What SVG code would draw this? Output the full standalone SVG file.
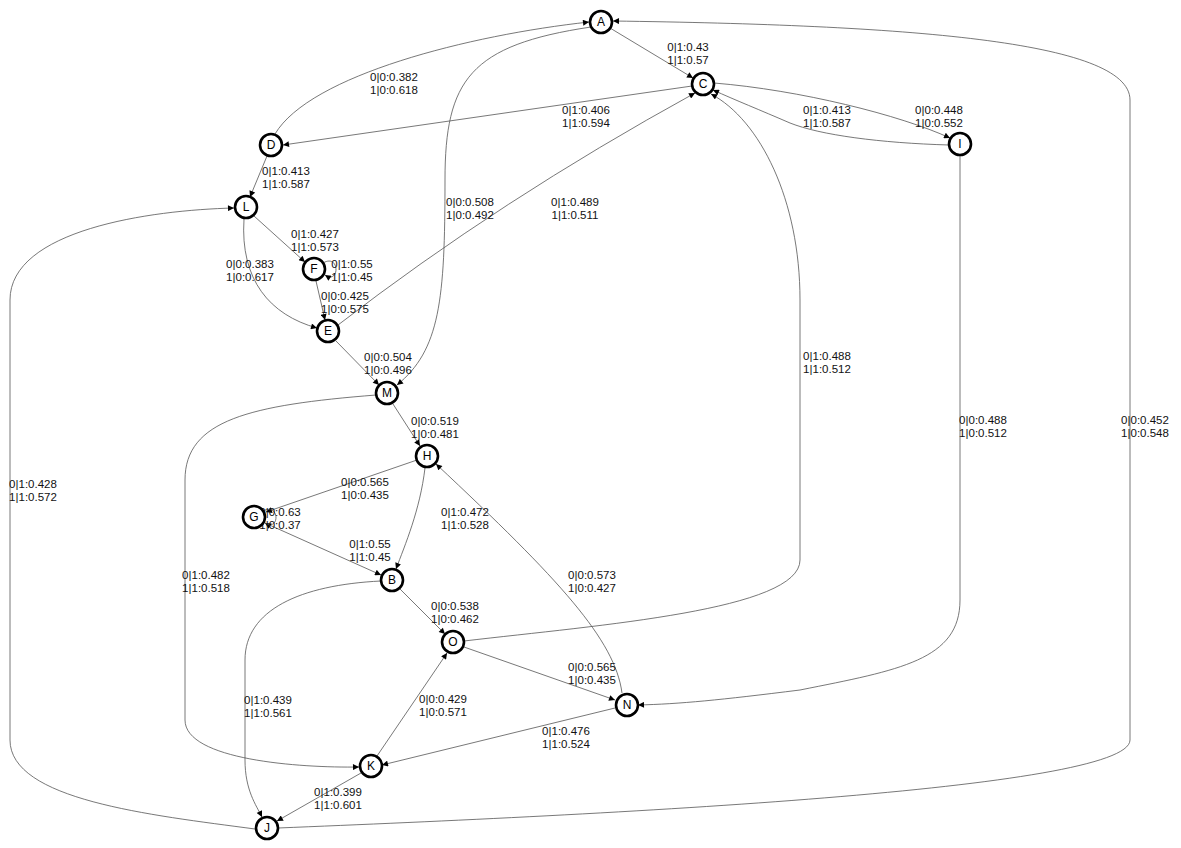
<svg xmlns="http://www.w3.org/2000/svg" width="1181" height="848" viewBox="0 0 1181 848">
<defs>
<marker id="ah" viewBox="0 0 10 10" refX="10" refY="5" markerWidth="7" markerHeight="6" markerUnits="userSpaceOnUse" orient="auto">
<path d="M0,0 L10,5 L0,10 z" fill="#000"/>
</marker>
<style>
.e{fill:none;stroke:#555;stroke-width:0.8;marker-end:url(#ah)}
.n circle{fill:#fff;stroke:#000;stroke-width:2.6}
.n text{font-family:"Liberation Sans",Arial,sans-serif;font-size:12px;text-anchor:middle;fill:#000}
.l{font-family:"Liberation Sans",Arial,sans-serif;font-size:11.5px;text-anchor:middle;fill:#111}
</style>
</defs>
<rect width="1181" height="848" fill="#fff"/>
<g id="edges">
<path class="e" d="M610,28 L693,78"/>
<path class="e" d="M275,134 C310,75 470,35 589,22"/>
<path class="e" d="M591,27 C470,45 445,80 445,180 C445,300 440,350 397,385"/>
<path class="e" d="M692,86 L283,145"/>
<path class="e" d="M949,145 C880,143 820,135 790,123 C760,110 735,100 713,90"/>
<path class="e" d="M714,83 C800,90 900,115 950,138"/>
<path class="e" d="M267,156 L250,197"/>
<path class="e" d="M254,216 L305,262"/>
<path class="e" d="M244,219 C240,280 270,315 317,328"/>
<path class="e" d="M323,263 C340,253 340,285 325,275"/>
<path class="e" d="M316,281 L325,320"/>
<path class="e" d="M338,325 Q500,200 695,93"/>
<path class="e" d="M336,341 L379,385"/>
<path class="e" d="M393,404 L420,446"/>
<path class="e" d="M376,395 C250,405 185,420 185,480 L185,720 C185,760 300,768 359,767"/>
<path class="e" d="M417,460 L266,512"/>
<path class="e" d="M263,511 C280,502 280,532 265,523"/>
<path class="e" d="M265,523 L381,575"/>
<path class="e" d="M425,468 C420,510 405,545 396,569"/>
<path class="e" d="M400,589 L445,634"/>
<path class="e" d="M381,581 C300,585 245,610 245,660 L245,760 C245,790 256,805 262,817"/>
<path class="e" d="M464,641 C600,625 800,610 800,560 L800,300 C800,200 760,120 711,94"/>
<path class="e" d="M464,647 L615,700"/>
<path class="e" d="M622,693 C615,640 560,580 436,464"/>
<path class="e" d="M960,156 L960,600 C960,660 900,670 800,690 C720,700 680,704 638,705"/>
<path class="e" d="M615,708 L382,765"/>
<path class="e" d="M377,756 L447,653"/>
<path class="e" d="M361,773 L277,821"/>
<path class="e" d="M255,829 C150,815 10,800 10,740 L10,300 C10,230 150,210 234,208"/>
<path class="e" d="M278,828 C600,815 1130,790 1130,740 L1130,100 C1130,40 900,25 613,21"/>
</g>
<g id="labels">
<text class="l" x="688" y="51">0|1:0.43<tspan x="688" dy="12.5">1|1:0.57</tspan></text>
<text class="l" x="394" y="81">0|0:0.382<tspan x="394" dy="12.5">1|0:0.618</tspan></text>
<text class="l" x="470" y="206">0|0:0.508<tspan x="470" dy="12.5">1|0:0.492</tspan></text>
<text class="l" x="586" y="114">0|1:0.406<tspan x="586" dy="12.5">1|1:0.594</tspan></text>
<text class="l" x="827" y="114">0|1:0.413<tspan x="827" dy="12.5">1|1:0.587</tspan></text>
<text class="l" x="939" y="114">0|0:0.448<tspan x="939" dy="12.5">1|0:0.552</tspan></text>
<text class="l" x="286" y="175">0|1:0.413<tspan x="286" dy="12.5">1|1:0.587</tspan></text>
<text class="l" x="315" y="238">0|1:0.427<tspan x="315" dy="12.5">1|1:0.573</tspan></text>
<text class="l" x="250" y="268">0|0:0.383<tspan x="250" dy="12.5">1|0:0.617</tspan></text>
<text class="l" x="352" y="268">0|1:0.55<tspan x="352" dy="12.5">1|1:0.45</tspan></text>
<text class="l" x="345" y="300">0|0:0.425<tspan x="345" dy="12.5">1|0:0.575</tspan></text>
<text class="l" x="575" y="206">0|1:0.489<tspan x="575" dy="12.5">1|1:0.511</tspan></text>
<text class="l" x="388" y="361">0|0:0.504<tspan x="388" dy="12.5">1|0:0.496</tspan></text>
<text class="l" x="435" y="425">0|0:0.519<tspan x="435" dy="12.5">1|0:0.481</tspan></text>
<text class="l" x="206" y="579">0|1:0.482<tspan x="206" dy="12.5">1|1:0.518</tspan></text>
<text class="l" x="365" y="486">0|0:0.565<tspan x="365" dy="12.5">1|0:0.435</tspan></text>
<text class="l" x="280" y="516">0|0:0.63<tspan x="280" dy="12.5">1|0:0.37</tspan></text>
<text class="l" x="370" y="548">0|1:0.55<tspan x="370" dy="12.5">1|1:0.45</tspan></text>
<text class="l" x="465" y="516">0|1:0.472<tspan x="465" dy="12.5">1|1:0.528</tspan></text>
<text class="l" x="455" y="610">0|0:0.538<tspan x="455" dy="12.5">1|0:0.462</tspan></text>
<text class="l" x="268" y="704">0|1:0.439<tspan x="268" dy="12.5">1|1:0.561</tspan></text>
<text class="l" x="827" y="360">0|1:0.488<tspan x="827" dy="12.5">1|1:0.512</tspan></text>
<text class="l" x="592" y="671">0|0:0.565<tspan x="592" dy="12.5">1|0:0.435</tspan></text>
<text class="l" x="592" y="579">0|0:0.573<tspan x="592" dy="12.5">1|0:0.427</tspan></text>
<text class="l" x="983" y="424">0|0:0.488<tspan x="983" dy="12.5">1|0:0.512</tspan></text>
<text class="l" x="566" y="735">0|1:0.476<tspan x="566" dy="12.5">1|1:0.524</tspan></text>
<text class="l" x="443" y="703">0|0:0.429<tspan x="443" dy="12.5">1|0:0.571</tspan></text>
<text class="l" x="338" y="796">0|1:0.399<tspan x="338" dy="12.5">1|1:0.601</tspan></text>
<text class="l" x="33" y="488">0|1:0.428<tspan x="33" dy="12.5">1|1:0.572</tspan></text>
<text class="l" x="1145" y="424">0|0:0.452<tspan x="1145" dy="12.5">1|0:0.548</tspan></text>
</g>
<g id="A" class="n"><circle cx="601" cy="22" r="11"/><text x="601" y="26">A</text></g>
<g id="C" class="n"><circle cx="703" cy="84" r="11"/><text x="703" y="88">C</text></g>
<g id="D" class="n"><circle cx="271" cy="145" r="11"/><text x="271" y="149">D</text></g>
<g id="I" class="n"><circle cx="960" cy="144" r="11"/><text x="960" y="148">I</text></g>
<g id="L" class="n"><circle cx="246" cy="207" r="11"/><text x="246" y="211">L</text></g>
<g id="F" class="n"><circle cx="314" cy="269" r="11"/><text x="314" y="273">F</text></g>
<g id="E" class="n"><circle cx="328" cy="331" r="11"/><text x="328" y="335">E</text></g>
<g id="M" class="n"><circle cx="387" cy="393" r="11"/><text x="387" y="397">M</text></g>
<g id="H" class="n"><circle cx="427" cy="456" r="11"/><text x="427" y="460">H</text></g>
<g id="G" class="n"><circle cx="254" cy="517" r="11"/><text x="254" y="521">G</text></g>
<g id="B" class="n"><circle cx="392" cy="580" r="11"/><text x="392" y="584">B</text></g>
<g id="O" class="n"><circle cx="453" cy="642" r="11"/><text x="453" y="646">O</text></g>
<g id="N" class="n"><circle cx="627" cy="705" r="11"/><text x="627" y="709">N</text></g>
<g id="K" class="n"><circle cx="371" cy="766" r="11"/><text x="371" y="770">K</text></g>
<g id="J" class="n"><circle cx="267" cy="828" r="11"/><text x="267" y="832">J</text></g>
</svg>
